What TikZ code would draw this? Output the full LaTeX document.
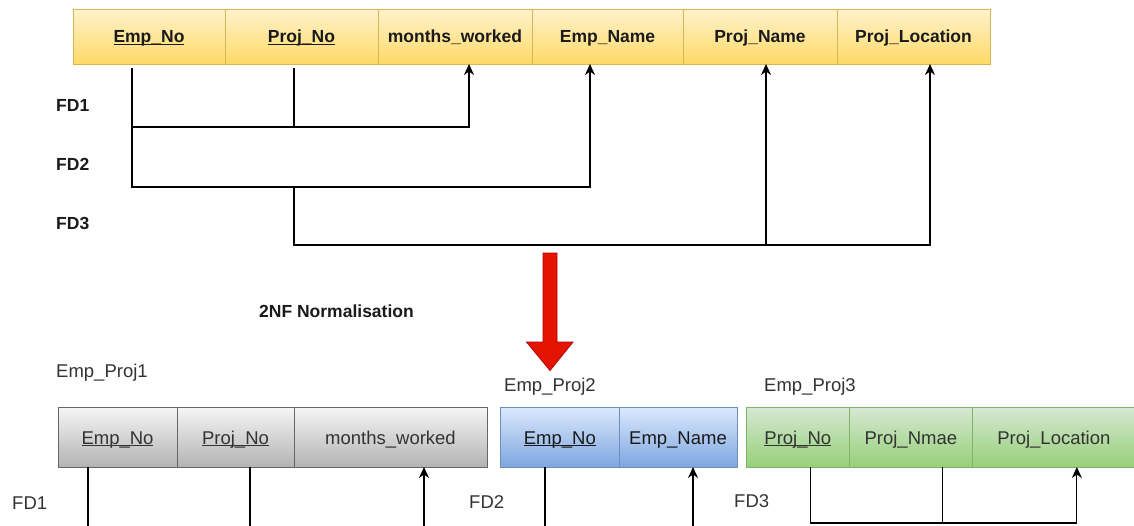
\documentclass[tikz,border=0pt]{standalone}
\usepackage{fontspec}
\setmainfont{Liberation Sans}
\usetikzlibrary{calc,arrows.meta}
\definecolor{yStroke}{HTML}{D6B656}
\definecolor{yTop}{HTML}{FFF2CC}
\definecolor{yBot}{HTML}{FFD966}
\definecolor{gStroke}{HTML}{666666}
\definecolor{gTop}{HTML}{F5F5F5}
\definecolor{gBot}{HTML}{B3B3B3}
\definecolor{bStroke}{HTML}{6C8EBF}
\definecolor{bTop}{HTML}{DAE8FC}
\definecolor{bBot}{HTML}{7EA6E0}
\definecolor{nStroke}{HTML}{82B366}
\definecolor{nTop}{HTML}{D5E8D4}
\definecolor{nBot}{HTML}{97D077}
\definecolor{redFill}{HTML}{E51400}
\definecolor{redStroke}{HTML}{B20000}
\definecolor{txtD}{HTML}{1A1A1A}
\definecolor{txtG}{HTML}{333333}
\newcommand\keyul[1]{\underline{\smash{#1}}}
\begin{document}
\begin{tikzpicture}[x=1pt,y=-1pt,
  cell/.style={draw, rectangle, inner sep=0pt, outer sep=0pt, anchor=north west, line width=0.9pt},
  ycell/.style={cell, draw=yStroke, top color=yTop, bottom color=yBot, minimum height=54.5pt, text=txtD,
    text height=15pt, text depth=3pt, font=\fontsize{17.5}{21}\selectfont\bfseries},
  lowcell/.style={cell, minimum height=59.3pt, text=txtG, text height=16pt, text depth=2.6pt,
    font=\fontsize{18.5}{22}\selectfont},
  gcell/.style={lowcell, draw=gStroke, top color=gTop, bottom color=gBot},
  bcell/.style={lowcell, draw=bStroke, top color=bTop, bottom color=bBot, text=txtD},
  ncell/.style={lowcell, draw=nStroke, top color=nTop, bottom color=nBot},
  conn/.style={line width=1.2pt, draw=black},
  arr/.style={conn, -{Stealth[length=11pt,width=10pt,inset=3.5pt]}},
  toplbl/.style={anchor=base west, inner sep=0pt, text=txtD, font=\fontsize{17.5}{21}\selectfont\bfseries},
  lowlbl/.style={anchor=base west, inner sep=0pt, text=txtG, font=\fontsize{18.5}{22}\selectfont}
]
\useasboundingbox (0,0) rectangle (1134,525);
\fill[white] (0,0) rectangle (1134,525);

% top relation
\node[ycell, minimum width=152pt] (t1) at (73,9.5) {\keyul{Emp\_No}};
\node[ycell, minimum width=153pt] (t2) at (t1.north east) {\keyul{Proj\_No}};
\node[ycell, minimum width=154pt] (t3) at (t2.north east) {months\_worked};
\node[ycell, minimum width=151pt] (t4) at (t3.north east) {Emp\_Name};
\node[ycell, minimum width=154pt] (t5) at (t4.north east) {Proj\_Name};
\node[ycell, minimum width=153pt] (t6) at (t5.north east) {Proj\_Location};

\node[toplbl] (fd1) at (56,111.7) {FD1};
\node[toplbl] (fd2) at (56,170) {FD2};
\node[toplbl] (fd3) at (56,229) {FD3};

\coordinate (e1) at ([xshift=-17pt,yshift=-4pt]t1.south);
\coordinate (p2) at ([xshift=-7.5pt,yshift=-4pt]t2.south);
\coordinate (a3) at ([xshift=14pt]t3.south);
\coordinate (a4) at ([xshift=-17.5pt]t4.south);
\coordinate (a5) at ([xshift=6pt]t5.south);
\coordinate (a6) at ([xshift=16.5pt]t6.south);

% FD2 (and Emp_No stem)
\draw[arr] (e1) |- ($(a4)+(0,123)$) -- (a4);
% FD1
\draw[arr] ($(e1)+(0,59)$) -- ($(a3)+(0,63)$) -- (a3);
\draw[conn] (p2) -- ($(p2)+(0,59)$);
% FD3
\draw[arr] ($(p2)+(0,119)$) |- ($(a6)+(0,181)$) -- (a6);
\draw[arr] ($(a5)+(0,181)$) -- (a5);

% normalisation arrow
\draw[line width=0.8pt, draw=redStroke, fill=redFill]
  (543,253) -- (557,253) -- (557,342) -- (573,342) -- (550,370.5) -- (526.5,342) -- (543,342) -- cycle;
\node[toplbl] (nf) at (259,317) {2NF Normalisation};

% Emp_Proj1
\node[lowlbl] (l1) at (56,377.3) {Emp\_Proj1};
\node[gcell, minimum width=119pt] (g1) at (58,407.7) {\keyul{Emp\_No}};
\node[gcell, minimum width=117pt] (g2) at (g1.north east) {\keyul{Proj\_No}};
\node[gcell, minimum width=193pt] (g3) at (g2.north east) {months\_worked};
\node[lowlbl] (lfd1) at (12,509.3) {FD1};
\coordinate (g1e) at ($(g1.south)+(-29.5,62)$);
\coordinate (g2e) at ($(g2.south)+(14.5,62)$);
\coordinate (g3e) at ($(g3.south)+(33.5,62)$);
\draw[conn] ([xshift=-29.5pt]g1.south) -- (g1e);
\draw[conn] ([xshift=14.5pt]g2.south) -- (g2e);
\draw[arr] (g3e) -- ([xshift=33.5pt]g3.south);

% Emp_Proj2
\node[lowlbl] (l2) at (504,391.7) {Emp\_Proj2};
\node[bcell, minimum width=118.3pt] (b1) at (500.7,407.7) {\keyul{Emp\_No}};
\node[bcell, minimum width=118pt] (b2) at (b1.north east) {Emp\_Name};
\node[lowlbl] (lfd2) at (469,508.3) {FD2};
\coordinate (b1e) at ($(b1.south)+(-14.8,62)$);
\coordinate (b2e) at ($(b2.south)+(15,62)$);
\draw[conn] ([xshift=-14.8pt]b1.south) -- (b1e);
\draw[arr] (b2e) -- ([xshift=15pt]b2.south);

% Emp_Proj3
\node[lowlbl] (l3) at (764,391.7) {Emp\_Proj3};
\node[ncell, minimum width=102.3pt] (n1) at (746.7,407.7) {\keyul{Proj\_No}};
\node[ncell, minimum width=123.7pt] (n2) at (n1.north east) {Proj\_Nmae};
\node[ncell, minimum width=162.3pt] (n3) at (n2.north east) {Proj\_Location};
\node[lowlbl] (lfd3) at (734,507.7) {FD3};
\draw[arr] ([xshift=13pt]n1.south) |- ($(n3.south)+(23,56)$) -- ([xshift=23pt]n3.south);
\draw[conn] ([xshift=32pt]n2.south) -- ($(n2.south)+(32,56)$);
\end{tikzpicture}
\end{document}
